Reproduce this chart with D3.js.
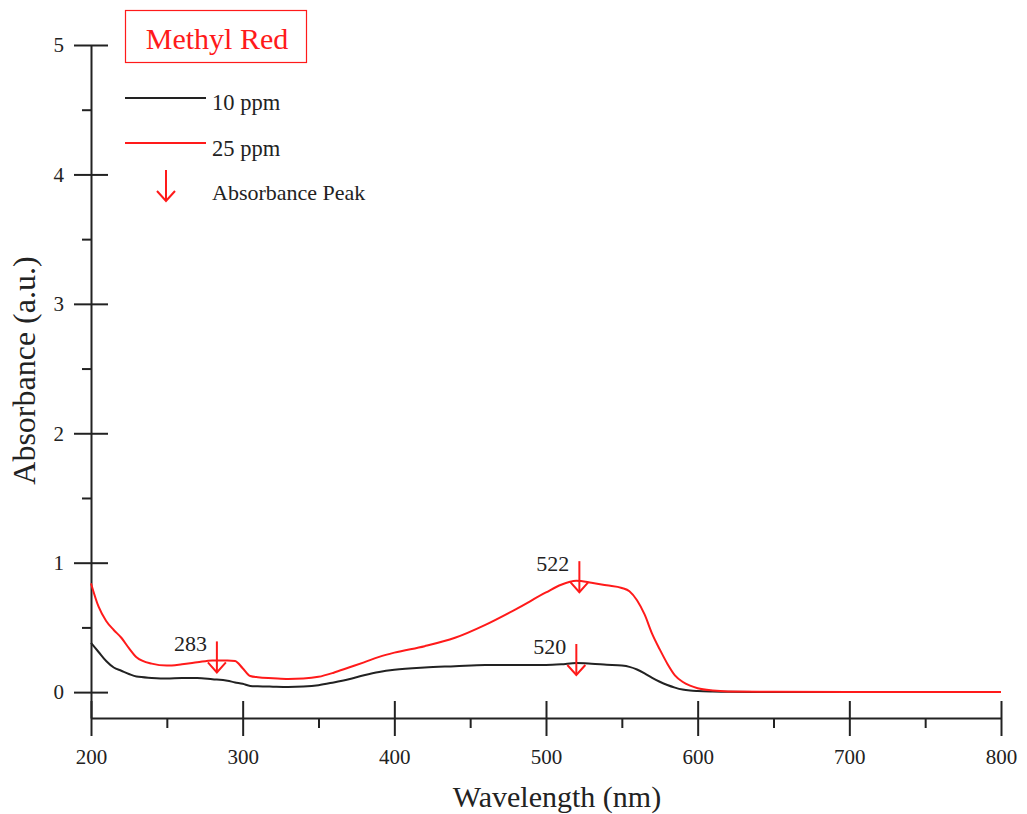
<!DOCTYPE html>
<html>
<head>
<meta charset="utf-8">
<script src="https://cdn.jsdelivr.net/npm/d3@7"></script>
<style>
  body { margin: 0; background: #fff; }
  svg { display: block; font-family: "Liberation Serif", "Times New Roman", serif; }
</style>
</head>
<body>
<div class="container"></div>
<script>
// size of the picture
const width = 1027;
const height = 814;

// wavelengths (nm)
const wavelengths = [200, 205, 210, 215, 220, 225, 230, 240, 250, 260, 270, 280, 290, 295, 300, 305, 310, 320, 330, 340,
  350, 360, 370, 380, 390, 400, 420, 440, 460, 480, 500, 510, 520, 530, 540, 550, 555, 560, 565, 570,
  575, 580, 585, 590, 595, 600, 610, 620, 650, 700, 750, 800];

// absorbance, 10 ppm (black)
const abs10 = [0.38, 0.31, 0.24, 0.19, 0.165, 0.14, 0.12, 0.11, 0.105, 0.11, 0.11, 0.1, 0.088, 0.075, 0.065, 0.048, 0.045, 0.042, 0.04, 0.043,
  0.053, 0.075, 0.1, 0.13, 0.155, 0.172, 0.19, 0.2, 0.21, 0.21, 0.21, 0.215, 0.225, 0.22, 0.212, 0.205, 0.195, 0.175, 0.145, 0.11,
  0.08, 0.055, 0.035, 0.02, 0.012, 0.008, 0.004, 0.002, 0.001, 0.001, 0.001, 0.001];

// absorbance, 25 ppm (red)
const abs25 = [0.84, 0.66, 0.55, 0.48, 0.42, 0.34, 0.27, 0.22, 0.205, 0.215, 0.23, 0.245, 0.245, 0.24, 0.185, 0.125, 0.115, 0.108, 0.102, 0.105,
  0.118, 0.15, 0.19, 0.23, 0.272, 0.305, 0.355, 0.42, 0.52, 0.64, 0.77, 0.83, 0.86, 0.845, 0.825, 0.805, 0.78, 0.71, 0.6, 0.45,
  0.33, 0.22, 0.13, 0.08, 0.05, 0.03, 0.012, 0.005, 0.002, 0.001, 0.001, 0.001];

// absorbance peaks marked with arrows
const peakLabels = ["283", "522", "520"];
const peakWl = [283, 522, 520];
const peakAbs = [0.245, 0.865, 0.225];

// tick values
const xMajor = [200, 300, 400, 500, 600, 700, 800];
const xMinor = [250, 350, 450, 550, 650, 750];
const yMajor = [0, 1, 2, 3, 4, 5];
const yMinor = [0.5, 1.5, 2.5, 3.5, 4.5];

const red = "#ff1a1a";
const dark = "#222";

const svg = d3.select(".container")
  .append("svg")
  .attr("width", width)
  .attr("height", height);

// scales
const xScale = d3.scaleLinear().domain([200, 800]).range([91, 1001]);
const yScale = d3.scaleLinear().domain([-0.2, 5]).range([718, 45]);

// axes: major ticks cross the line, minor ticks only outside
const xAxisY = yScale(-0.2);
const yAxisX = xScale(200);

svg.append("g")
  .attr("transform", `translate(0, ${xAxisY})`)
  .call(d3.axisBottom(xScale).tickValues(xMajor).tickSize(18).tickSizeOuter(0).tickPadding(13).tickFormat(d3.format("d")))
  .call(g => g.selectAll("text").attr("font-size", 21).attr("font-family", "Liberation Serif").attr("fill", dark));

svg.append("g")
  .attr("transform", `translate(0, ${xAxisY})`)
  .call(d3.axisTop(xScale).tickValues(xMajor).tickSize(17).tickSizeOuter(0).tickFormat(""))
  .call(g => g.select(".domain").remove());

svg.append("g")
  .attr("transform", `translate(0, ${xAxisY})`)
  .call(d3.axisBottom(xScale).tickValues(xMinor).tickSize(10).tickSizeOuter(0).tickFormat(""))
  .call(g => g.select(".domain").remove());

svg.append("g")
  .attr("transform", `translate(${yAxisX}, 0)`)
  .call(d3.axisLeft(yScale).tickValues(yMajor).tickSize(17).tickSizeOuter(0).tickPadding(10).tickFormat(d3.format("d")))
  .call(g => g.selectAll("text").attr("font-size", 21).attr("font-family", "Liberation Serif").attr("fill", dark));

svg.append("g")
  .attr("transform", `translate(${yAxisX}, 0)`)
  .call(d3.axisRight(yScale).tickValues(yMajor).tickSize(17).tickSizeOuter(0).tickFormat(""))
  .call(g => g.select(".domain").remove());

svg.append("g")
  .attr("transform", `translate(${yAxisX}, 0)`)
  .call(d3.axisLeft(yScale).tickValues(yMinor).tickSize(9).tickSizeOuter(0).tickFormat(""))
  .call(g => g.select(".domain").remove());

svg.selectAll(".domain, .tick line")
  .attr("stroke", dark)
  .attr("stroke-width", 2);

// axis titles
svg.append("text")
  .attr("x", (xScale(200) + xScale(800)) / 2 + 11)
  .attr("y", 807)
  .attr("text-anchor", "middle")
  .attr("font-size", 30)
  .attr("fill", dark)
  .text("Wavelength (nm)");

svg.append("text")
  .attr("transform", `translate(35, ${yScale(2.5) + 2}) rotate(-90)`)
  .attr("text-anchor", "middle")
  .attr("font-size", 32)
  .attr("fill", dark)
  .text("Absorbance (a.u.)");

// the two spectra
const line = d3.line()
  .x((d, i) => xScale(wavelengths[i]))
  .y(d => yScale(d))
  .curve(d3.curveMonotoneX);

svg.append("path")
  .datum(abs10)
  .attr("fill", "none")
  .attr("stroke", dark)
  .attr("stroke-width", 2)
  .attr("d", line);

svg.append("path")
  .datum(abs25)
  .attr("fill", "none")
  .attr("stroke", red)
  .attr("stroke-width", 2)
  .attr("d", line);

// draws a red down arrow whose tip is at (x, y)
function arrow(x, y) {
  const g = svg.append("g")
    .attr("fill", "none")
    .attr("stroke", red)
    .attr("stroke-width", 2);
  g.append("line").attr("x1", x).attr("x2", x).attr("y1", y - 31).attr("y2", y);
  g.append("path").attr("d", `M${x - 9},${y - 10}L${x},${y}L${x + 9},${y - 10}`);
}

// peak markers
peakWl.forEach((wl, i) => {
  const px = xScale(wl);
  const tip = yScale(peakAbs[i]) + 12;
  arrow(px, tip);
  svg.append("text")
    .attr("x", px - 10)
    .attr("y", tip - 21)
    .attr("text-anchor", "end")
    .attr("font-size", 22)
    .attr("fill", dark)
    .text(peakLabels[i]);
});

// legend
svg.append("rect")
  .attr("x", 125.5).attr("y", 10.5)
  .attr("width", 181).attr("height", 52)
  .attr("fill", "none")
  .attr("stroke", red)
  .attr("stroke-width", 1.2);

svg.append("text")
  .attr("x", 217).attr("y", 49)
  .attr("text-anchor", "middle")
  .attr("font-size", 30)
  .attr("fill", red)
  .text("Methyl Red");

svg.append("line")
  .attr("x1", 125).attr("x2", 206).attr("y1", 98).attr("y2", 98)
  .attr("stroke", dark).attr("stroke-width", 2);
svg.append("text")
  .attr("x", 212).attr("y", 110)
  .attr("font-size", 22.5).attr("fill", dark)
  .text("10 ppm");

svg.append("line")
  .attr("x1", 125).attr("x2", 206).attr("y1", 143).attr("y2", 143)
  .attr("stroke", red).attr("stroke-width", 2);
svg.append("text")
  .attr("x", 212).attr("y", 156)
  .attr("font-size", 22.5).attr("fill", dark)
  .text("25 ppm");

arrow(166, 201);
svg.append("text")
  .attr("x", 212).attr("y", 200)
  .attr("font-size", 22).attr("fill", dark)
  .text("Absorbance Peak");
</script>
</body>
</html>
